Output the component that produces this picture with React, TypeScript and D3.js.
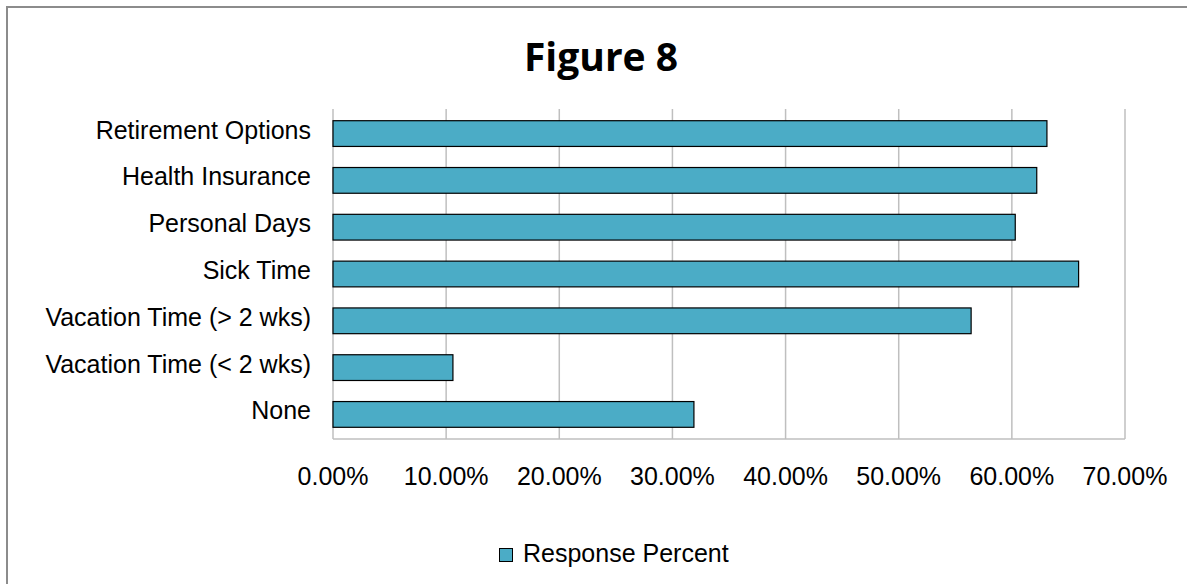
import * as React from "react";
import * as d3 from "d3";

const categories = [
  "Retirement Options",
  "Health Insurance",
  "Personal Days",
  "Sick Time",
  "Vacation Time (> 2 wks)",
  "Vacation Time (< 2 wks)",
  "None",
];
const responsePercent = [63.1, 62.2, 60.3, 65.9, 56.4, 10.6, 31.9];
const xTicks = [0, 10, 20, 30, 40, 50, 60, 70];
const seriesName = "Response Percent";
const title = "Figure 8";

const W = 1187;
const H = 584;
const margin = { left: 333, right: 62, top: 109, bottom: 145 };
const barColor = "#4BACC6";
const labelFont = "'Liberation Sans', Arial, sans-serif";

export default function App() {
  const x = React.useMemo(
    () => d3.scaleLinear().domain([0, 70]).range([margin.left, W - margin.right]),
    []
  );
  const y = React.useMemo(
    () =>
      d3
        .scaleBand()
        .domain(categories)
        .range([margin.top, H - margin.bottom])
        .paddingInner(0.45)
        .paddingOuter(0.25),
    []
  );

  const plotBottom = H - margin.bottom;

  return (
    <div style={{ position: "absolute", left: 0, top: 0 }}>
      <svg width={W} height={H} style={{ display: "block" }}>
        <rect x={0} y={0} width={W} height={H} fill="#fff" />
        {/* outer chart frame, cut off on the right and bottom */}
        <rect x={7} y={7} width={W + 20} height={H + 20} fill="none" stroke="#8c8c8c" strokeWidth={2} />

        <text
          x={601}
          y={71}
          textAnchor="middle"
          fontFamily="'Open Sans', sans-serif"
          fontWeight={700}
          fontSize={39}
          fill="#000"
        >
          {title}
        </text>

        {/* gridlines */}
        {xTicks.map((t) => (
          <line
            key={t}
            x1={x(t)}
            x2={x(t)}
            y1={margin.top}
            y2={plotBottom}
            stroke="#bfbfbf"
            strokeWidth={1.5}
          />
        ))}
        <line x1={x(0)} x2={x(70)} y1={plotBottom} y2={plotBottom} stroke="#bfbfbf" strokeWidth={1.5} />

        {/* bars */}
        {categories.map((c, i) => (
          <rect
            key={c}
            x={x(0)}
            y={y(c)}
            width={x(responsePercent[i]) - x(0)}
            height={y.bandwidth()}
            fill={barColor}
            stroke="#000"
            strokeWidth={1.2}
          />
        ))}

        {/* category labels */}
        {categories.map((c) => (
          <text
            key={c}
            x={margin.left - 22}
            y={(y(c) ?? 0) + y.bandwidth() / 2 + 5}
            textAnchor="end"
            fontFamily={labelFont}
            fontSize={25}
            fill="#000"
          >
            {c}
          </text>
        ))}

        {/* x tick labels */}
        {xTicks.map((t) => (
          <text
            key={t}
            x={x(t)}
            y={485}
            textAnchor="middle"
            fontFamily={labelFont}
            fontSize={25}
            fill="#000"
          >
            {d3.format(".2f")(t) + "%"}
          </text>
        ))}

        {/* legend */}
        <rect x={499.5} y={548.5} width={13} height={13} fill={barColor} stroke="#000" strokeWidth={1} />
        <text x={523} y={562} fontFamily={labelFont} fontSize={25} fill="#000">
          {seriesName}
        </text>
      </svg>
    </div>
  );
}
